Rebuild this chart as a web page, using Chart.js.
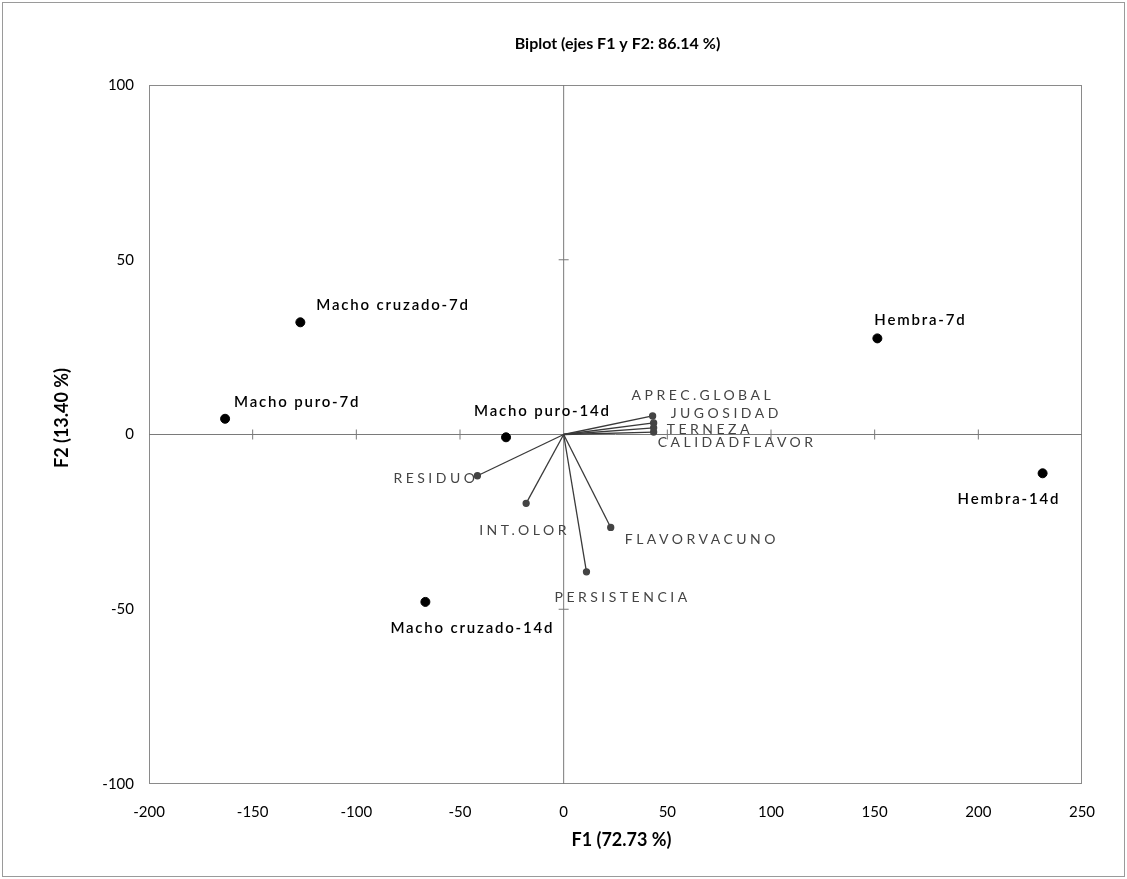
<!DOCTYPE html>
<html>
<head>
<meta charset="utf-8">
<script src="https://cdn.jsdelivr.net/npm/chart.js@4"></script>
<style>
  html, body { margin: 0; padding: 0; background: #fff; }
  #wrap { width: 1127px; height: 879px; position: relative; }
</style>
</head>
<body>
<div id="wrap"><canvas id="biplot" width="1127" height="879"></canvas></div>
<script>
// observations (scores)
const obsNames = ['Macho cruzado-7d', 'Macho puro-7d', 'Macho puro-14d', 'Macho cruzado-14d', 'Hembra-7d', 'Hembra-14d'];
const obsF1 = [-127, -163.3, -27.8, -66.7, 151.3, 231];
const obsF2 = [32.1, 4.5, -0.8, -47.9, 27.5, -11.1];

// variables (loadings, drawn as vectors from origin)
const varNames = ['APREC.GLOBAL', 'JUGOSIDAD', 'TERNEZA', 'CALIDADFLAVOR', 'RESIDUO', 'INT.OLOR', 'FLAVORVACUNO', 'PERSISTENCIA'];
const varF1 = [42.9, 43.4, 43.4, 43.4, -41.6, -18.1, 22.7, 11.0];
const varF2 = [5.3, 3.3, 1.9, 0.7, -11.8, -19.7, -26.6, -39.3];

const xTicks = [-200, -150, -100, -50, 0, 50, 100, 150, 200, 250];
const yTicks = [-100, -50, 0, 50, 100];

const chartTitle = 'Biplot (ejes F1 y F2: 86.14 %)';
const xTitle = 'F1 (72.73 %)';
const yTitle = 'F2 (13.40 %)';

// label placement (pixels from the marker)
const obsLabelPos = [[16, -17], [9, -17], [-32, -26], [-35, 26], [-3, -18], [-85, 26]];
const varLabelPos = [[-21, -20], [17, -9], [13, 2], [4, 10], [-84, 3], [-47, 27], [14, 12], [-32, 26]];

const FONT = 'Lato, "Open Sans", sans-serif';

const datasets = [];
varNames.forEach((name, i) => {
    datasets.push({
        type: 'line',
        label: name,
        data: [{ x: 0, y: 0 }, { x: varF1[i], y: varF2[i] }],
        borderColor: '#3a3a3a',
        borderWidth: 1.3,
        pointRadius: [0, 3],
        pointBackgroundColor: '#444',
        pointBorderColor: '#444',
        fill: false
    });
});
datasets.push({
    type: 'scatter',
    label: 'obs',
    data: obsF1.map((x, i) => ({ x, y: obsF2[i] })),
    pointRadius: 4.5,
    backgroundColor: '#000',
    borderColor: '#000'
});

const decor = {
    id: 'decor',
    beforeDatasetsDraw(chart) {
        const { ctx, chartArea: a, scales } = chart;
        const x0 = scales.x.getPixelForValue(0);
        const y0 = scales.y.getPixelForValue(0);
        ctx.save();
        // plot frame
        ctx.strokeStyle = '#8a8a8a';
        ctx.lineWidth = 1;
        ctx.strokeRect(a.left + 0.5, a.top + 0.5, a.width - 1, a.height - 1);
        // zero axes
        ctx.strokeStyle = '#7a7a7a';
        ctx.beginPath();
        ctx.moveTo(a.left, y0); ctx.lineTo(a.right, y0);
        ctx.moveTo(x0, a.top); ctx.lineTo(x0, a.bottom);
        ctx.stroke();
        // tick crosses on zero axes
        ctx.beginPath();
        xTicks.forEach(v => {
            if (v === 0 || v === xTicks[0] || v === xTicks[xTicks.length - 1]) return;
            const px = scales.x.getPixelForValue(v);
            ctx.moveTo(px, y0 - 5); ctx.lineTo(px, y0 + 5);
        });
        yTicks.forEach(v => {
            if (v === 0 || v === yTicks[0] || v === yTicks[yTicks.length - 1]) return;
            const py = scales.y.getPixelForValue(v);
            ctx.moveTo(x0 - 5, py); ctx.lineTo(x0 + 5, py);
        });
        ctx.stroke();
        ctx.restore();
    },
    afterDraw(chart) {
        const { ctx, chartArea: a, scales } = chart;
        ctx.save();
        // outer frame
        ctx.strokeStyle = '#9a9a9a';
        ctx.lineWidth = 1;
        ctx.strokeRect(2.5, 2.5, chart.width - 5, chart.height - 5);

        // title + axis titles
        ctx.fillStyle = '#000';
        ctx.textAlign = 'center';
        ctx.textBaseline = 'middle';
        ctx.font = 'bold 16px ' + FONT;
        ctx.fillText(chartTitle, (a.left + a.right) / 2 + 2, 44);
        ctx.font = 'bold 18px ' + FONT;
        ctx.fillText(xTitle, (a.left + a.right) / 2 + 6, 840);
        ctx.save();
        ctx.translate(62, 418);
        ctx.rotate(-Math.PI / 2);
        ctx.fillText(yTitle, 0, 0);
        ctx.restore();

        // observation labels
        ctx.textAlign = 'left';
        ctx.font = '600 15px ' + FONT;
        ctx.letterSpacing = '1.8px';
        obsNames.forEach((name, i) => {
            const px = scales.x.getPixelForValue(obsF1[i]);
            const py = scales.y.getPixelForValue(obsF2[i]);
            ctx.fillText(name, px + obsLabelPos[i][0], py + obsLabelPos[i][1]);
        });

        // variable labels
        ctx.fillStyle = '#444';
        ctx.font = '14px ' + FONT;
        ctx.letterSpacing = '3.5px';
        varNames.forEach((name, i) => {
            const px = scales.x.getPixelForValue(varF1[i]);
            const py = scales.y.getPixelForValue(varF2[i]);
            ctx.fillText(name, px + varLabelPos[i][0], py + varLabelPos[i][1]);
        });
        ctx.restore();
    }
};

new Chart(document.getElementById('biplot'), {
    type: 'scatter',
    data: { datasets },
    options: {
        responsive: false,
        animation: false,
        layout: { padding: { top: 85, left: 20, right: 45, bottom: 20 } },
        plugins: { legend: { display: false }, tooltip: { enabled: false }, title: { display: false } },
        scales: {
            x: {
                type: 'linear', min: -200, max: 250,
                afterBuildTicks: s => { s.ticks = xTicks.map(v => ({ value: v })); },
                grid: { display: false, drawTicks: false },
                border: { display: false },
                ticks: { color: '#000', font: { family: FONT, size: 15 }, padding: 19 },
                afterFit: s => { s.height = 75; }
            },
            y: {
                type: 'linear', min: -100, max: 100,
                afterBuildTicks: s => { s.ticks = yTicks.map(v => ({ value: v })); },
                grid: { display: false, drawTicks: false },
                border: { display: false },
                ticks: { color: '#000', font: { family: FONT, size: 15 }, padding: 15 },
                afterFit: s => { s.width = 129; }
            }
        }
    },
    plugins: [decor]
});
</script>
</body>
</html>
